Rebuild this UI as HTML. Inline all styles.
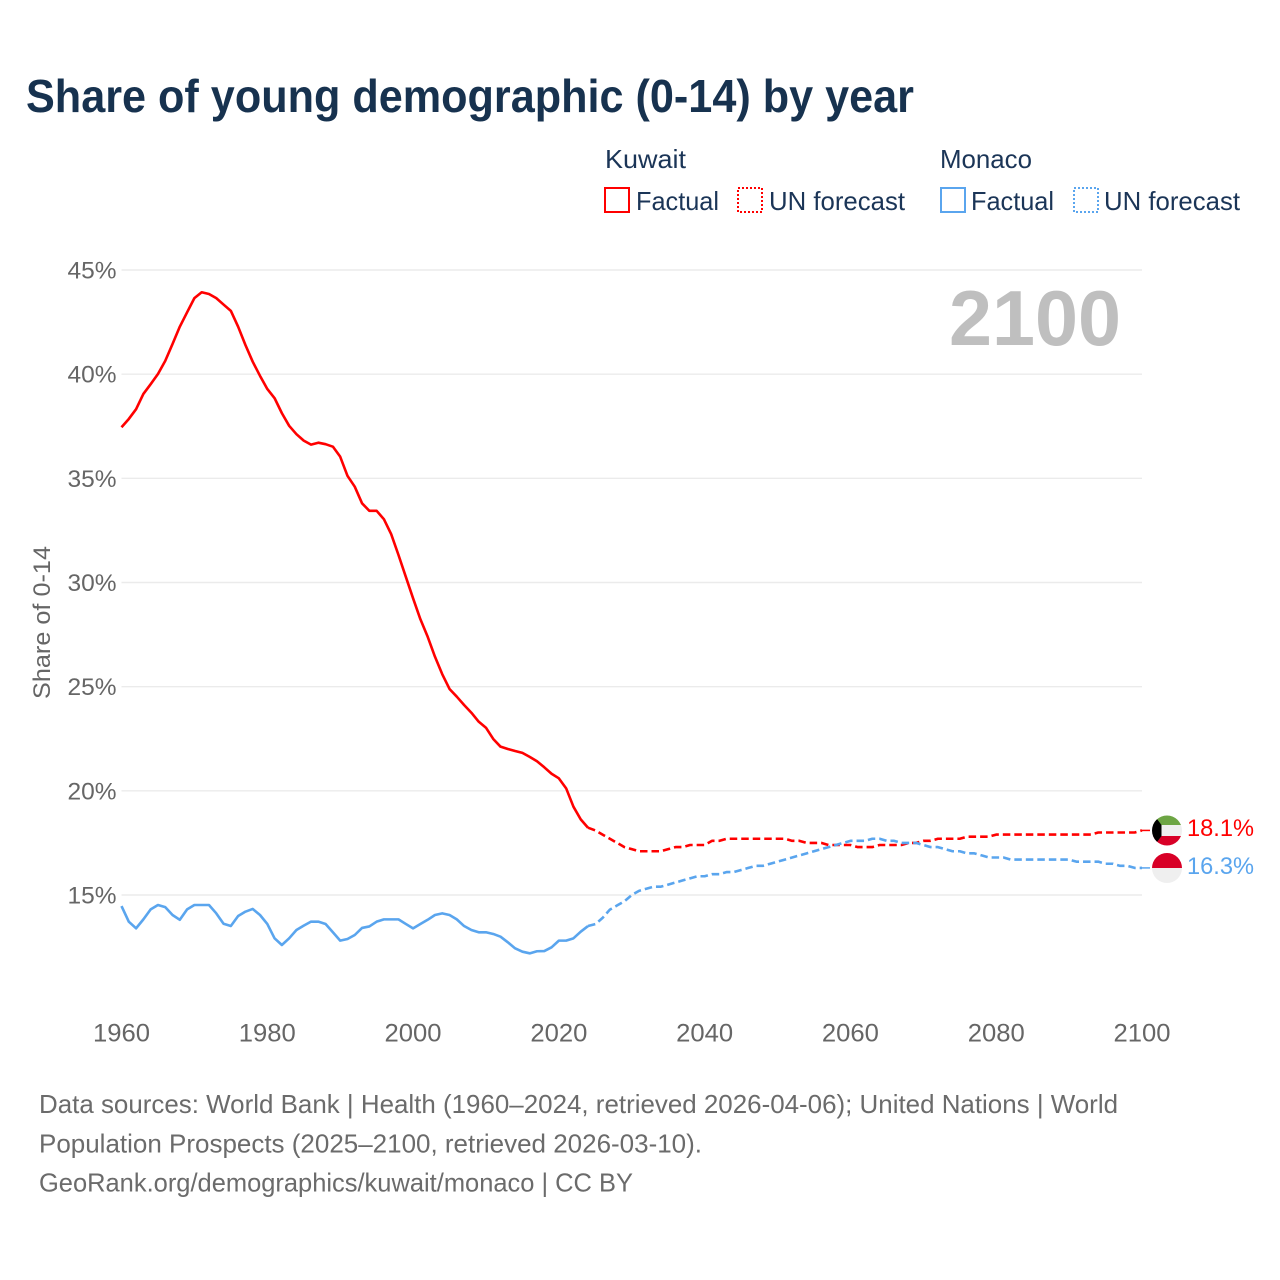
<!DOCTYPE html>
<html lang="en">
<head>
<meta charset="utf-8">
<title>Share of young demographic (0-14) by year</title>
<style>
html,body{margin:0;padding:0;background:#fff;}
svg{display:block;font-family:"Liberation Sans",sans-serif;}
</style>
</head>
<body>
<svg id="chart" xmlns="http://www.w3.org/2000/svg" width="1280" height="1280" viewBox="0 0 1280 1280">
  <rect x="0" y="0" width="1280" height="1280" fill="#ffffff"/>
  <text x="26" y="112" font-size="46" font-weight="700" fill="#17324f" textLength="888" lengthAdjust="spacingAndGlyphs">Share of young demographic (0-14) by year</text>

  <g font-size="26" fill="#1b3557">
    <text x="605" y="168" textLength="81" lengthAdjust="spacingAndGlyphs">Kuwait</text>
    <text x="940" y="168" textLength="92" lengthAdjust="spacingAndGlyphs">Monaco</text>
    <g>
      <rect x="605" y="188" width="24" height="24" fill="none" stroke="#ff0000" stroke-width="2"/>
      <text x="636" y="210" textLength="83" lengthAdjust="spacingAndGlyphs">Factual</text>
    </g>
    <g>
      <rect x="738" y="188" width="24" height="24" fill="none" stroke="#ff0000" stroke-width="2" stroke-dasharray="2 2"/>
      <text x="769" y="210" textLength="136" lengthAdjust="spacingAndGlyphs">UN forecast</text>
    </g>
    <g>
      <rect x="941" y="188" width="24" height="24" fill="none" stroke="#5aa5ee" stroke-width="2"/>
      <text x="971" y="210" textLength="83" lengthAdjust="spacingAndGlyphs">Factual</text>
    </g>
    <g>
      <rect x="1074" y="188" width="24" height="24" fill="none" stroke="#5aa5ee" stroke-width="2" stroke-dasharray="2 2"/>
      <text x="1104" y="210" textLength="136" lengthAdjust="spacingAndGlyphs">UN forecast</text>
    </g>
  </g>

  <text transform="translate(50,622.5) rotate(-90)" text-anchor="middle" font-size="24" fill="#666666" textLength="153" lengthAdjust="spacingAndGlyphs">Share of 0-14</text>
  <g id="grid"></g>
  <g id="yticks"></g>
  <g id="xticks"></g>
  <text x="949" y="345" font-size="78" font-weight="700" fill="#bfbfbf" textLength="172" lengthAdjust="spacingAndGlyphs">2100</text>
  <g id="series"></g>

  <defs>
    <clipPath id="clip-kw"><circle cx="1167" cy="830.5" r="15"/></clipPath>
    <clipPath id="clip-mc"><circle cx="1167" cy="868" r="15"/></clipPath>
  </defs>
  <g clip-path="url(#clip-kw)">
    <rect x="1150" y="815" width="34" height="10" fill="#6da544"/>
    <rect x="1150" y="825" width="34" height="11" fill="#efefef"/>
    <rect x="1150" y="836" width="34" height="11" fill="#d80027"/>
    <polygon points="1150,815 1157,819 1161.5,825 1161.5,836 1157,842 1150,846" fill="#000000"/>
  </g>
  <g clip-path="url(#clip-mc)">
    <rect x="1150" y="852" width="34" height="16" fill="#d80027"/>
    <rect x="1150" y="868" width="34" height="16" fill="#efefef"/>
  </g>
  <text x="1187" y="836" font-size="24.5" fill="#ff0000" textLength="67" lengthAdjust="spacingAndGlyphs">18.1%</text>
  <text x="1187" y="874" font-size="24.5" fill="#5aa5ee" textLength="67" lengthAdjust="spacingAndGlyphs">16.3%</text>

  <g font-size="26" fill="#6b6b6b">
    <text x="39" y="1113" textLength="1079" lengthAdjust="spacingAndGlyphs">Data sources: World Bank | Health (1960–2024, retrieved 2026-04-06); United Nations | World</text>
    <text x="39" y="1152.5" textLength="663" lengthAdjust="spacingAndGlyphs">Population Prospects (2025–2100, retrieved 2026-03-10).</text>
    <text x="39" y="1191.5" textLength="594" lengthAdjust="spacingAndGlyphs">GeoRank.org/demographics/kuwait/monaco | CC BY</text>
  </g>
</svg>
<script>
const factualStartYear = 1960;
const forecastStartYear = 2025;
const yTickValues = [15, 20, 25, 30, 35, 40, 45];
const xTickYears = [1960, 1980, 2000, 2020, 2040, 2060, 2080, 2100];

const kuwaitFactual = [
37.45,37.85,38.32,39.05,39.52,40.01,40.64,41.45,42.28,42.97,
43.65,43.93,43.85,43.65,43.34,43.04,42.28,41.40,40.60,39.92,
39.29,38.85,38.13,37.52,37.12,36.81,36.62,36.71,36.64,36.52,
36.04,35.12,34.60,33.80,33.44,33.44,33.04,32.32,31.32,30.28,
29.24,28.24,27.40,26.44,25.60,24.89,24.52,24.12,23.75,23.32,
23.03,22.49,22.12,22.01,21.91,21.82,21.63,21.42,21.13,20.82,
20.60,20.12,19.24,18.63,18.23];

const kuwaitForecast = [
18.1,17.9,17.7,17.5,17.3,17.2,17.1,17.1,17.1,17.1,
17.2,17.3,17.3,17.4,17.4,17.4,17.6,17.6,17.7,17.7,
17.7,17.7,17.7,17.7,17.7,17.7,17.7,17.6,17.6,17.5,
17.5,17.5,17.4,17.4,17.4,17.4,17.3,17.3,17.3,17.4,
17.4,17.4,17.4,17.5,17.5,17.6,17.6,17.7,17.7,17.7,
17.7,17.8,17.8,17.8,17.8,17.9,17.9,17.9,17.9,17.9,
17.9,17.9,17.9,17.9,17.9,17.9,17.9,17.9,17.9,18.0,
18.0,18.0,18.0,18.0,18.0,18.1];

const monacoFactual = [
14.47,13.72,13.40,13.83,14.31,14.52,14.42,14.04,13.81,14.31,
14.52,14.52,14.52,14.12,13.62,13.51,13.99,14.20,14.33,14.04,
13.61,12.92,12.60,12.92,13.32,13.53,13.72,13.72,13.61,13.21,
12.81,12.89,13.08,13.42,13.49,13.72,13.83,13.83,13.83,13.61,
13.40,13.61,13.81,14.04,14.12,14.04,13.83,13.51,13.32,13.21,
13.21,13.13,13.00,12.73,12.44,12.28,12.20,12.30,12.31,12.49,
12.81,12.81,12.92,13.24,13.51];

const monacoForecast = [
13.6,13.9,14.3,14.5,14.7,15.0,15.2,15.3,15.4,15.4,
15.5,15.6,15.7,15.8,15.9,15.9,16.0,16.0,16.1,16.1,
16.2,16.3,16.4,16.4,16.5,16.6,16.7,16.8,16.9,17.0,
17.1,17.2,17.3,17.4,17.5,17.6,17.6,17.6,17.7,17.7,
17.6,17.6,17.5,17.5,17.5,17.4,17.3,17.3,17.2,17.1,
17.1,17.0,17.0,16.9,16.8,16.8,16.8,16.7,16.7,16.7,
16.7,16.7,16.7,16.7,16.7,16.7,16.6,16.6,16.6,16.6,
16.5,16.5,16.4,16.4,16.3,16.3];

const NS = 'http://www.w3.org/2000/svg';
const xScale = year => 121.5 + (year - 1960) * (1142 - 121.5) / 140;
const yScale = value => 895 - (value - 15) * (895 - 270) / 30;

function svgEl(tag, attrs, parent) {
  const el = document.createElementNS(NS, tag);
  for (const k in attrs) el.setAttribute(k, attrs[k]);
  parent.appendChild(el);
  return el;
}

const grid = document.getElementById('grid');
const yTicks = document.getElementById('yticks');
const xTicks = document.getElementById('xticks');
const seriesGroup = document.getElementById('series');

yTickValues.forEach(v => {
  const line = svgEl('line', {x1: xScale(1960), x2: xScale(2100), y1: yScale(v), y2: yScale(v), stroke: '#ebebeb', 'stroke-width': 1.4}, grid);
  
  
  const label = svgEl('text', {x: 116.5, y: yScale(v) + 8.5, 'text-anchor': 'end', 'font-size': 24.5, fill: '#666666'}, yTicks);
  
  
  label.textContent = v + '%';
});

xTickYears.forEach(year => {
  const label = svgEl('text', {x: xScale(year), y: 1041.7, 'text-anchor': 'middle', 'font-size': 25, fill: '#666666', textLength: 57, lengthAdjust: 'spacingAndGlyphs'}, xTicks);
  
  
  label.textContent = year;
});

function pathFrom(values, startYear) {
  return values.map((v, i) => (i ? 'L' : 'M') + xScale(startYear + i).toFixed(2) + ' ' + yScale(v).toFixed(2)).join(' ');
}

function drawLine(values, startYear, color, dashed, name) {
  const attrs = {d: pathFrom(values, startYear), fill: 'none', stroke: color, 'stroke-width': 2.6, 'stroke-linejoin': 'round'};
  if (dashed) attrs['stroke-dasharray'] = '7.5 4';
  const p = svgEl('path', attrs, seriesGroup);
  
  
}

function drawConnector(value, color, name) {
  const c = svgEl('line', {x1: xScale(2100), x2: xScale(2100) + 8, y1: yScale(value), y2: yScale(value), stroke: color, 'stroke-width': 1.5}, seriesGroup);
  
  
}

drawLine(kuwaitFactual, factualStartYear, '#ff0000', false, 'kuwait-factual-line');
drawLine(monacoFactual, factualStartYear, '#5aa5ee', false, 'monaco-factual-line');
drawLine([kuwaitFactual[kuwaitFactual.length - 1]].concat(kuwaitForecast), forecastStartYear - 1, '#ff0000', true, 'kuwait-forecast-line');
drawLine([monacoFactual[monacoFactual.length - 1]].concat(monacoForecast), forecastStartYear - 1, '#5aa5ee', true, 'monaco-forecast-line');
drawConnector(kuwaitForecast[kuwaitForecast.length - 1], '#ff0000', 'kuwait-end-connector');
drawConnector(monacoForecast[monacoForecast.length - 1], '#5aa5ee', 'monaco-end-connector');
</script>
</body>
</html>
